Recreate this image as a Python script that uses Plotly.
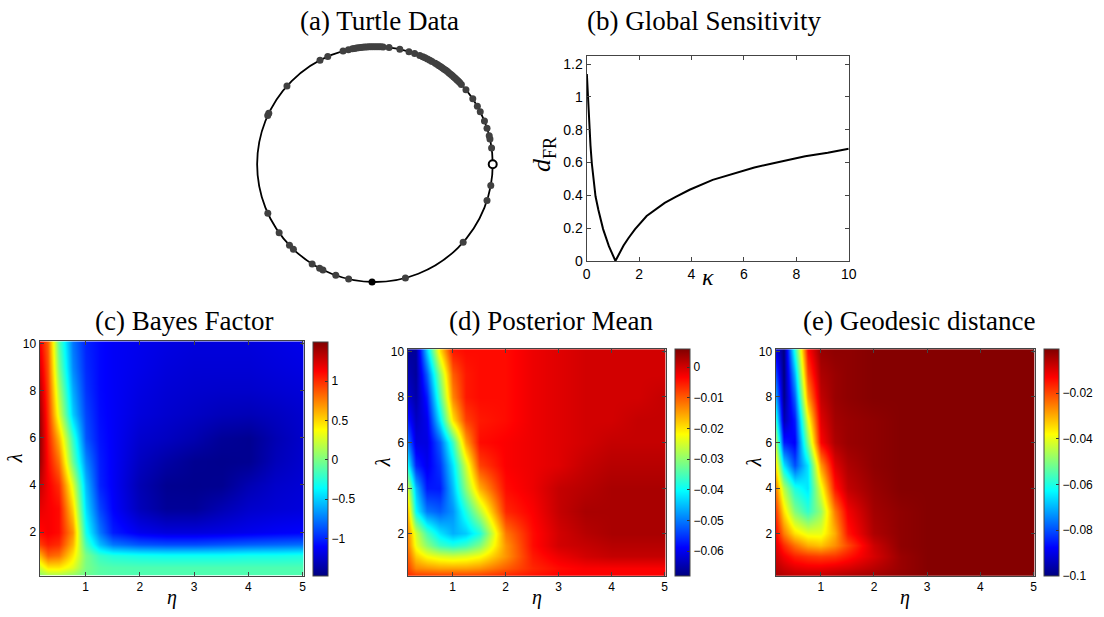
import numpy as np
import plotly.graph_objects as go

W, H = 1104, 617

# ---------------- data ----------------
turtle_angles_deg = [
    86, 87, 88, 89, 90, 91, 92, 93, 94, 95, 96, 97, 98, 99, 100, 101, 103, 105.7, 113.6, 117.8,
    83.1, 77.8, 73.2, 70.3, 67.6, 66, 64.8, 63.5, 62.2, 61, 59.2, 58, 57, 56, 55, 54, 53, 52,
    51, 50, 49, 48, 47, 46, 45, 44, 42.8, 39.4, 33.8, 29.6, 26.6, 21.6, 17.9, 14.0, 12.4, 8.0,
    -10.4, -17.9, -41.5, -75, -102.9, -109.4, -116.2, -118, -122.2, -133.8, -136.5, -144.4,
    -155.4, 154.3, 155.5, 138.3,
]
open_angle_deg = [0.0]
mean_angle_deg = [-91.4]

kappa = [0.01, 0.05, 0.1, 0.15, 0.2, 0.27, 0.34, 0.45, 0.63, 0.85, 0.97, 1.1, 1.2, 1.41,
         1.6, 1.85, 2.29, 2.6, 2.98, 3.4, 3.93, 4.81, 5.82, 6.4, 7.08, 8.34, 9.2, 10.0]
d_fr = [1.14, 0.99, 0.83, 0.70, 0.594, 0.49, 0.394, 0.31, 0.194, 0.09, 0.045, 0.0, 0.03,
        0.094, 0.14, 0.194, 0.274, 0.31, 0.354, 0.39, 0.434, 0.494, 0.544, 0.57, 0.594,
        0.638, 0.66, 0.684]

eta = [0.15, 0.3, 0.5, 0.75, 1.0, 1.25, 1.5, 2.0, 2.5, 3.0, 3.5, 4.0, 4.5, 5.0]
lam = [0.1, 0.5, 1.0, 1.5, 2, 3, 4, 5, 6, 7, 8, 9, 10]

bayes_factor = [
    [0.0, 0.05, 0.05, 0.0, -0.05, -0.1, -0.12, -0.13, -0.13, -0.13, -0.13, -0.13, -0.13, -0.13],
    [0.25, 0.45, 0.45, 0.3, 0.0, -0.1, -0.12, -0.13, -0.13, -0.13, -0.13, -0.13, -0.13, -0.13],
    [0.6, 0.85, 0.8, 0.45, 0.0, -0.2, -0.26, -0.3, -0.32, -0.32, -0.32, -0.3, -0.3, -0.28],
    [0.95, 1.05, 1.0, 0.6, -0.15, -0.55, -0.75, -0.85, -0.88, -0.88, -0.85, -0.82, -0.8, -0.78],
    [1.1, 1.15, 1.1, 0.7, -0.3, -0.75, -1.02, -1.15, -1.2, -1.2, -1.18, -1.15, -1.12, -1.1],
    [1.2, 1.15, 1.1, 0.5, -0.45, -0.9, -1.1, -1.3, -1.4, -1.4, -1.32, -1.25, -1.22, -1.2],
    [1.3, 1.15, 1.0, 0.3, -0.55, -1.0, -1.12, -1.32, -1.42, -1.43, -1.42, -1.32, -1.25, -1.22],
    [1.42, 1.1, 0.8, -0.05, -0.7, -1.02, -1.12, -1.28, -1.36, -1.42, -1.43, -1.42, -1.3, -1.24],
    [1.45, 1.05, 0.6, -0.2, -0.85, -1.05, -1.12, -1.24, -1.28, -1.33, -1.4, -1.42, -1.32, -1.25],
    [1.42, 1.0, 0.3, -0.5, -0.9, -1.07, -1.12, -1.2, -1.24, -1.27, -1.3, -1.31, -1.28, -1.24],
    [1.35, 0.95, 0.15, -0.6, -0.95, -1.08, -1.12, -1.18, -1.22, -1.24, -1.25, -1.25, -1.23, -1.21],
    [1.25, 0.9, 0.0, -0.7, -0.98, -1.08, -1.12, -1.16, -1.2, -1.22, -1.22, -1.22, -1.2, -1.18],
    [1.15, 0.85, -0.1, -0.75, -1.0, -1.08, -1.12, -1.15, -1.18, -1.2, -1.2, -1.2, -1.18, -1.16],
]

posterior_mean = [
    [-0.006, -0.006, -0.006, -0.006, -0.006, -0.006, -0.006, -0.005, -0.004, -0.003, -0.003, -0.003, -0.003, -0.003],
    [-0.008, -0.013, -0.014, -0.015, -0.015, -0.015, -0.014, -0.01, -0.006, -0.004, -0.003, -0.003, -0.003, -0.003],
    [-0.01, -0.018, -0.022, -0.024, -0.025, -0.024, -0.022, -0.014, -0.005, -0.002, 0.0, 0.001, 0.001, 0.001],
    [-0.012, -0.023, -0.03, -0.036, -0.038, -0.036, -0.031, -0.014, -0.004, 0.0, 0.001, 0.002, 0.002, 0.002],
    [-0.013, -0.025, -0.035, -0.042, -0.046, -0.044, -0.038, -0.012, -0.004, 0.0, 0.002, 0.003, 0.003, 0.003],
    [-0.017, -0.04, -0.05, -0.052, -0.048, -0.038, -0.027, -0.006, -0.003, 0.001, 0.003, 0.003, 0.003, 0.003],
    [-0.025, -0.045, -0.057, -0.057, -0.045, -0.03, -0.016, -0.004, -0.002, 0.001, 0.002, 0.003, 0.003, 0.003],
    [-0.04, -0.056, -0.06, -0.055, -0.042, -0.025, -0.008, -0.003, -0.002, -0.001, 0.001, 0.002, 0.002, 0.002],
    [-0.05, -0.061, -0.061, -0.052, -0.036, -0.015, -0.004, -0.003, -0.002, -0.001, 0.0, 0.001, 0.001, 0.001],
    [-0.057, -0.063, -0.06, -0.042, -0.02, -0.008, -0.005, -0.004, -0.002, -0.001, 0.0, 0.0, 0.001, 0.001],
    [-0.062, -0.065, -0.057, -0.035, -0.013, -0.005, -0.004, -0.004, -0.002, -0.001, 0.0, 0.0, 0.0, 0.001],
    [-0.064, -0.066, -0.052, -0.03, -0.01, -0.005, -0.004, -0.004, -0.002, -0.001, 0.0, 0.0, 0.0, 0.0],
    [-0.066, -0.066, -0.044, -0.02, -0.005, -0.004, -0.004, -0.004, -0.002, -0.001, 0.0, 0.0, 0.0, 0.0],
]

geodesic_distance = [
    [-0.004, -0.005, -0.006, -0.006, -0.006, -0.005, -0.004, -0.003, -0.002, -0.001, -0.001, -0.001, -0.001, -0.001],
    [-0.006, -0.008, -0.01, -0.011, -0.011, -0.01, -0.009, -0.006, -0.003, -0.001, -0.001, -0.001, -0.001, -0.001],
    [-0.008, -0.012, -0.016, -0.018, -0.019, -0.018, -0.015, -0.009, -0.003, -0.001, -0.001, -0.001, -0.001, -0.001],
    [-0.01, -0.017, -0.024, -0.03, -0.032, -0.027, -0.02, -0.008, -0.002, -0.001, -0.001, -0.001, -0.001, -0.001],
    [-0.013, -0.025, -0.035, -0.04, -0.04, -0.03, -0.015, -0.005, -0.002, -0.001, -0.001, -0.001, -0.001, -0.001],
    [-0.018, -0.035, -0.05, -0.058, -0.048, -0.025, -0.012, -0.004, -0.002, -0.001, -0.001, -0.001, -0.001, -0.001],
    [-0.025, -0.045, -0.06, -0.065, -0.04, -0.015, -0.007, -0.003, -0.001, -0.001, -0.001, -0.001, -0.001, -0.001],
    [-0.035, -0.065, -0.08, -0.065, -0.028, -0.01, -0.005, -0.002, -0.001, -0.001, -0.001, -0.001, -0.001, -0.001],
    [-0.045, -0.085, -0.088, -0.05, -0.013, -0.005, -0.003, -0.002, -0.001, -0.001, -0.001, -0.001, -0.001, -0.001],
    [-0.058, -0.095, -0.085, -0.04, -0.01, -0.004, -0.003, -0.002, -0.001, -0.001, -0.001, -0.001, -0.001, -0.001],
    [-0.07, -0.099, -0.078, -0.028, -0.007, -0.003, -0.002, -0.001, -0.001, -0.001, -0.001, -0.001, -0.001, -0.001],
    [-0.08, -0.1, -0.07, -0.02, -0.005, -0.003, -0.002, -0.001, -0.001, -0.001, -0.001, -0.001, -0.001, -0.001],
    [-0.09, -0.1, -0.06, -0.014, -0.003, -0.002, -0.002, -0.001, -0.001, -0.001, -0.001, -0.001, -0.001, -0.001],
]

titles = ["(a) Turtle Data", "(b) Global Sensitivity", "(c) Bayes Factor",
          "(d) Posterior Mean", "(e) Geodesic distance"]

# ---------------- helpers ----------------
def fx(px):
    return px / W

def fy(py):
    return 1 - py / H

SERIF = "Liberation Serif"
SANS = "Liberation Sans"
TICKFONT = dict(family=SANS, size=12, color="black")
TICKFONT_B = dict(family=SANS, size=14, color="black")

JET = [[0.0, "rgb(0,0,128)"], [0.125, "rgb(0,0,255)"], [0.375, "rgb(0,255,255)"],
       [0.625, "rgb(255,255,0)"], [0.875, "rgb(255,0,0)"], [1.0, "rgb(128,0,0)"]]

fig = go.Figure()

# ---- (a) circle data ----
ta = np.radians(turtle_angles_deg)
fig.add_trace(go.Scatter(x=np.cos(ta), y=np.sin(ta), mode="markers", xaxis="x", yaxis="y",
                         marker=dict(size=7, color="#404040"), showlegend=False))
ma = np.radians(mean_angle_deg)
fig.add_trace(go.Scatter(x=np.cos(ma), y=np.sin(ma), mode="markers", xaxis="x", yaxis="y",
                         marker=dict(size=7, color="black"), showlegend=False))
oa = np.radians(open_angle_deg)
fig.add_trace(go.Scatter(x=np.cos(oa), y=np.sin(oa), mode="markers", xaxis="x", yaxis="y",
                         marker=dict(size=8, color="white", line=dict(color="black", width=2)),
                         showlegend=False))

# ---- (b) sensitivity ----
fig.add_trace(go.Scatter(x=kappa, y=d_fr, mode="lines", xaxis="x2", yaxis="y2",
                         line=dict(color="black", width=2), showlegend=False))

# ---- heatmaps ----
def fmt(v):
    return ("%g" % v).replace("-", "\u2212")

heat = [
    (bayes_factor, "x3", "y3", -1.47, 1.5, (312, 344, 583), [-1, -0.5, 0, 0.5, 1]),
    (posterior_mean, "x4", "y4", -0.068, 0.006, (678, 352, 583),
     [-0.06, -0.05, -0.04, -0.03, -0.02, -0.01, 0]),
    (geodesic_distance, "x5", "y5", -0.1, -0.0005, (1051, 352, 583),
     [-0.1, -0.08, -0.06, -0.04, -0.02]),
]
for z, xa, ya, zmin, zmax, (cbx, cbt, cbb), ctk in heat:
    fig.add_trace(go.Heatmap(
        x=eta, y=lam, z=z, xaxis=xa, yaxis=ya, zmin=zmin, zmax=zmax,
        colorscale=JET, zsmooth="best",
        colorbar=dict(x=fx(cbx), xanchor="left", y=fy(cbb), yanchor="bottom",
                      len=(cbb - cbt) / H, lenmode="fraction", thickness=15,
                      thicknessmode="pixels", outlinewidth=1, outlinecolor="#444",
                      ticks="inside", ticklen=3, tickcolor="#333", tickvals=ctk,
                      ticktext=[fmt(v) for v in ctk], ticklabelposition="outside",
                      tickfont=TICKFONT, xpad=0, ypad=0)))

def axis_common(**kw):
    d = dict(showline=True, linecolor="#444", linewidth=1, mirror="ticks", ticks="inside",
             ticklen=4, tickcolor="#444", showgrid=False, zeroline=False, tickfont=TICKFONT)
    d.update(kw)
    return d

layout = dict(
    width=W, height=H, margin=dict(l=0, r=0, t=0, b=0),
    paper_bgcolor="white", plot_bgcolor="white",
    xaxis=dict(domain=[fx(244), fx(506)], range=[-1.1, 1.1], visible=False),
    yaxis=dict(domain=[fy(295.5), fy(31.5)], range=[-1.1, 1.1], visible=False),
    xaxis2=axis_common(domain=[fx(589), fx(854)], range=[0, 10], tickvals=[0, 2, 4, 6, 8, 10],
                       anchor="y2", tickfont=TICKFONT_B),
    yaxis2=axis_common(domain=[fy(262), fy(53)], range=[0, 1.25],
                       tickvals=[0, 0.2, 0.4, 0.6, 0.8, 1, 1.2], anchor="x2",
                       tickfont=TICKFONT_B),
)
hx = [(36, 303, 344), (408, 669, 352), (780, 1042, 352)]
for i, (l, r, t) in enumerate(hx):
    n = i + 3
    layout[f"xaxis{n}"] = axis_common(domain=[fx(l), fx(r)], range=[0.15, 5.02],
                                      tickvals=[1, 2, 3, 4, 5], anchor=f"y{n}")
    layout[f"yaxis{n}"] = axis_common(domain=[fy(583), fy(t)], range=[0.15, 10.1],
                                      tickvals=[2, 4, 6, 8, 10], anchor=f"x{n}")
fig.update_layout(**layout)

fig.add_shape(type="circle", xref="x", yref="y", x0=-1, y0=-1, x1=1, y1=1,
              line=dict(color="black", width=1.8), layer="below")

def label(text, px, py, size, angle=0):
    fig.add_annotation(text=text, x=fx(px), y=fy(py), xref="paper", yref="paper",
                       showarrow=False, xanchor="center", yanchor="middle", textangle=angle,
                       font=dict(family=SERIF, size=size, color="black"))

# titles
title_pos = [(380, 17), (708, 17), (182, 323), (553, 323), (925, 323)]
for txt, (px, py) in zip(titles, title_pos):
    label(txt, px, py, 27)

# axis labels
label("<i>κ</i>", 712, 278, 24)
label("<i>d</i><sub>FR</sub>", 545, 153, 26, -90)
lam_x = [12, 384, 759]
for (l, r, t), lx in zip(hx, lam_x):
    label("<i>η</i>", (l + r) / 2, 605, 20)
    label("<i>λ</i>", lx, (583 + t) / 2, 20, -90)

fig.write_html("out.html", config={"displayModeBar": False},
               post_script="document.body.style.margin='0px';")
